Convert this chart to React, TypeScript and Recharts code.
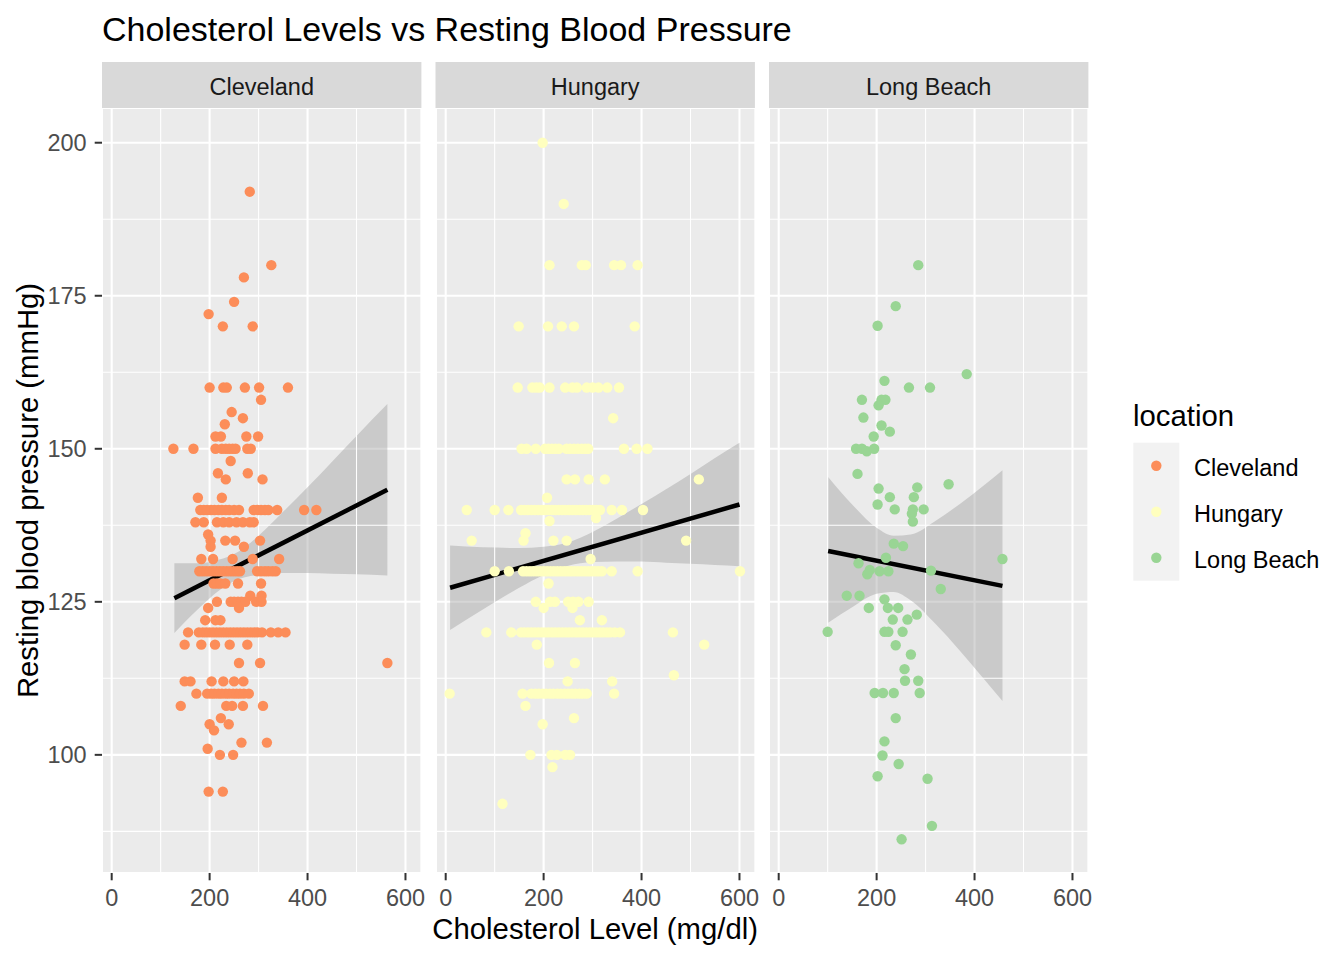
import React from 'react';
import { ComposedChart, Scatter, Line, Area, XAxis, YAxis, CartesianGrid, ReferenceLine } from 'recharts';

const FONT = '"Liberation Sans", Arial, Helvetica, sans-serif';

const chartTitle = 'Cholesterol Levels vs Resting Blood Pressure';
const xTitle = 'Cholesterol Level (mg/dl)';
const yTitle = 'Resting blood pressure (mmHg)';
const legendTitle = 'location';

const locations = ['Cleveland', 'Hungary', 'Long Beach'];
const colors = ['#FC8D59', '#FFFFBF', '#99D594'];

const xTicks = [0, 200, 400, 600];
const xMinor = [100, 300, 500];
const yTicks = [100, 125, 150, 175, 200];
const yMinor = [87.5, 112.5, 137.5, 162.5, 187.5];
const xDomain = [-19.8, 632.5];
const yDomain = [80.7, 205.67];

// [cholesterol, resting bp]
const clevelandPoints: [number, number][] = [
  [282, 192], [326, 180], [270, 178], [250, 174], [198, 172], [227, 170], [288, 170],
  [200, 160], [228, 160], [235, 160], [272, 160], [301, 160], [360, 160],
  [305, 158], [245, 156], [268, 155], [231, 154],
  [212, 152], [223, 152], [275, 152], [299, 152],
  [126, 150], [167, 150], [212, 150], [225, 150], [233, 150], [240, 150], [247, 150], [253, 150], [277, 150], [284, 150],
  [243, 148], [217, 146], [278, 146], [233, 145], [308, 145], [176, 142], [225, 142],
  [181, 140], [188, 140], [195, 140], [203, 140], [210, 140], [218, 140], [225, 140], [233, 140], [240, 140], [250, 140], [260, 140],
  [290, 140], [298, 140], [305, 140], [313, 140], [320, 140], [338, 140], [393, 140], [418, 140],
  [171, 138], [188, 138], [215, 138], [228, 138], [240, 138], [255, 138], [268, 138], [282, 138], [290, 138],
  [197, 136], [202, 135], [232, 135], [252, 135], [303, 135], [202, 134], [270, 134],
  [183, 132], [207, 132], [247, 132], [288, 132], [342, 132],
  [179, 130], [186, 130], [193, 130], [200, 130], [207, 130], [214, 130], [221, 130], [228, 130], [235, 130], [242, 130], [249, 130], [256, 130], [262, 130],
  [297, 130], [305, 130], [313, 130], [320, 130], [328, 130], [335, 130],
  [208, 128], [215, 128], [222, 128], [232, 128], [258, 128], [305, 128], [283, 126], [306, 126],
  [215, 125], [243, 125], [250, 125], [258, 125], [265, 125], [273, 125], [295, 125], [306, 125],
  [197, 124], [260, 124], [191, 122], [212, 122], [222, 122],
  [156, 120], [178, 120], [186, 120], [193, 120], [200, 120], [207, 120], [214, 120], [221, 120], [228, 120], [235, 120], [242, 120],
  [249, 120], [256, 120], [263, 120], [270, 120], [277, 120], [284, 120], [291, 120], [298, 120], [307, 120], [325, 120], [340, 120], [355, 120],
  [149, 118], [183, 118], [211, 118], [241, 118], [277, 118],
  [260, 115], [303, 115], [563, 115],
  [149, 112], [161, 112], [204, 112], [228, 112], [250, 112], [269, 112],
  [173, 110], [195, 110], [203, 110], [210, 110], [218, 110], [225, 110], [233, 110], [240, 110], [248, 110], [255, 110], [262, 110], [270, 110], [280, 110],
  [141, 108], [234, 108], [246, 108], [268, 108], [309, 108],
  [223, 106], [200, 105], [239, 105], [209, 104], [265, 102], [317, 102], [196, 101], [221, 100], [248, 100], [198, 94], [227, 94],
];

const hungaryPoints: [number, number][] = [
  [198, 200], [241, 190],
  [212, 180], [278, 180], [286, 180], [344, 180], [358, 180], [392, 180],
  [149, 170], [209, 170], [237, 170], [262, 170], [386, 170],
  [147, 160], [177, 160], [185, 160], [192, 160], [212, 160], [244, 160], [259, 160], [268, 160], [288, 160], [300, 160], [312, 160], [330, 160], [354, 160],
  [342, 155],
  [155, 150], [165, 150], [184, 150], [203, 150], [210, 150], [217, 150], [224, 150], [231, 150], [247, 150], [254, 150], [262, 150], [270, 150],
  [278, 150], [285, 150], [291, 150], [364, 150], [390, 150], [412, 150],
  [247, 145], [264, 145], [292, 145], [325, 145], [517, 145], [207, 142],
  [43, 140], [100, 140], [128, 140], [154, 140], [161, 140], [168, 140], [175, 140], [182, 140], [189, 140], [196, 140], [203, 140], [210, 140],
  [217, 140], [224, 140], [231, 140], [238, 140], [245, 140], [252, 140], [259, 140], [266, 140], [273, 140], [280, 140], [287, 140], [294, 140],
  [301, 140], [308, 140], [315, 140], [339, 140], [360, 140], [403, 140],
  [307, 138.7], [212, 138.2], [163, 136.2], [53, 135], [159, 135], [220, 135], [247, 135], [491, 135], [296, 132],
  [100, 130], [129, 130], [158, 130], [165, 130], [172, 130], [179, 130], [186, 130], [193, 130], [200, 130], [207, 130], [214, 130], [221, 130],
  [228, 130], [235, 130], [242, 130], [249, 130], [256, 130], [263, 130], [270, 130], [277, 130], [284, 130], [291, 130], [298, 130], [305, 130],
  [312, 130], [319, 130], [339, 130], [392, 130], [601, 130],
  [210, 128], [184, 125], [213, 125], [223, 125], [250, 125], [260, 125], [271, 125], [292, 125],
  [200, 124], [259, 124], [274, 122], [319, 122],
  [83, 120], [134, 120], [154, 120], [161, 120], [168, 120], [175, 120], [182, 120], [189, 120], [196, 120], [203, 120], [210, 120], [217, 120],
  [224, 120], [231, 120], [238, 120], [245, 120], [252, 120], [259, 120], [266, 120], [273, 120], [280, 120], [287, 120], [294, 120], [301, 120],
  [308, 120], [315, 120], [322, 120], [329, 120], [336, 120], [345, 120], [356, 120], [464, 120],
  [186, 118], [528, 118], [211, 115], [264, 115], [466, 113], [249, 112], [340, 112],
  [8, 110], [157, 110], [175, 110], [183, 110], [190, 110], [198, 110], [205, 110], [213, 110], [220, 110], [228, 110], [235, 110], [243, 110],
  [250, 110], [258, 110], [265, 110], [273, 110], [280, 110], [288, 110], [344, 110],
  [163, 108], [262, 106], [198, 105],
  [173, 100], [216, 100], [227, 100], [244, 100], [254, 100], [218, 98], [116, 92],
];

const longBeachPoints: [number, number][] = [
  [285, 180], [239, 173.3], [202, 170.1], [384, 162.2], [216, 161.1], [266, 160], [309, 160], [170, 158], [210, 158], [218, 158],
  [204, 157.1], [173, 155.1], [210, 153.8], [227, 152.8], [194, 152], [158, 150], [170, 150], [180, 149.6], [195, 150], [161, 145.9],
  [204, 143.5], [283, 143.7], [347, 144.2], [227, 142.1], [276, 142.1], [202, 140.9], [237, 140.1], [274, 140.1], [296, 140.1], [272, 139.4],
  [274, 138.1], [235, 134.5], [254, 134.1], [457, 132], [219, 132.2], [163, 131.3], [186, 130.2], [181, 129.5], [206, 130], [224, 130],
  [311, 130.1], [331, 127.1], [139, 126], [165, 126], [216, 125.4], [184, 124], [223, 124], [244, 124], [282, 122.9], [233, 122.1],
  [263, 122.1], [100, 120.1], [216, 120.1], [224, 120.1], [253, 120.1], [239, 117.9], [270, 116.4], [257, 114], [258, 112.1], [285, 112.1],
  [196, 110.1], [213, 110.1], [235, 110.1], [288, 110.1], [239, 106], [216, 102.2], [212, 99.9], [245, 98.5], [202, 96.5], [304, 96.1],
  [313, 88.4], [251, 86.2],
];

// regression line end points [x, fit]
const clevelandFit: [number, number][] = [[128, 125.6], [563, 143.3]];
const hungaryFit: [number, number][] = [[9, 127.3], [600, 140.9]];
const longBeachFit: [number, number][] = [[101, 133.3], [457, 127.6]];

// confidence band [x, lower, upper]
const clevelandBand: [number, number, number][] = [
  [128, 119.9, 131.3], [175, 123.7, 131.3], [220, 126.9, 131.9], [250, 128.4, 132.8], [300, 129.4, 135.8],
  [350, 129.7, 139.7], [400, 129.7, 143.7], [450, 129.6, 147.9], [500, 129.5, 152.1], [563, 129.3, 157.3],
];
const hungaryBand: [number, number, number][] = [
  [9, 120.4, 134.2], [75, 123.7, 133.9], [150, 127.3, 133.8], [200, 129.4, 134.0], [250, 130.9, 134.7], [300, 131.5, 136.4],
  [350, 131.6, 138.6], [400, 131.6, 141.0], [450, 131.4, 143.4], [500, 131.2, 145.9], [550, 131.0, 148.5], [600, 130.8, 151.0],
];
const longBeachBand: [number, number, number][] = [
  [101, 121.6, 145.4], [150, 124.1, 140.9], [200, 126.3, 137.1], [235, 126.6, 135.8], [270, 125.2, 136.0],
  [320, 121.4, 138.2], [370, 117.0, 141.0], [420, 112.3, 144.1], [457, 108.8, 146.5],
];

const pointSets = [clevelandPoints, hungaryPoints, longBeachPoints];
const fitSets = [clevelandFit, hungaryFit, longBeachFit];
const bandSets = [clevelandBand, hungaryBand, longBeachBand];

// layout
const PANEL_LEFTS = [102, 435.5, 769];
const PANEL_W = 319.4;
const PANEL_TOP = 108;
const PANEL_H = 765;
const Y_AXIS_W = 102;
const RIGHT_PAD = 26;
const POINT_R = 5.2;

function Panel({ idx }: { idx: number }) {
  const color = colors[idx];
  const showY = idx === 0;
  const pts = pointSets[idx].map(([x, y]) => ({ x, y }));
  const fit = fitSets[idx].map(([x, y]) => ({ x, y }));
  const band = bandSets[idx].map(([x, lo, hi]) => ({ x, band: [lo, hi] }));
  const yW = showY ? Y_AXIS_W : 0;
  const width = yW + PANEL_W + RIGHT_PAD;
  const height = 960 - PANEL_TOP;
  return (
    <div style={{ position: 'absolute', left: PANEL_LEFTS[idx] - yW, top: PANEL_TOP, width, height }}>
      <ComposedChart width={width} height={height} margin={{ top: 0, right: RIGHT_PAD, bottom: 0, left: 0 }}>
        <CartesianGrid fill="#EBEBEB" stroke="#FFFFFF" strokeWidth={2.1} />
        {xMinor.map((v) => (
          <ReferenceLine key={'xm' + v} x={v} stroke="#FFFFFF" strokeWidth={1.07} />
        ))}
        {yMinor.map((v) => (
          <ReferenceLine key={'ym' + v} y={v} stroke="#FFFFFF" strokeWidth={1.07} />
        ))}
        <XAxis
          type="number"
          dataKey="x"
          domain={xDomain}
          ticks={xTicks}
          interval={0}
          allowDataOverflow
          height={960 - PANEL_TOP - PANEL_H}
          tickSize={7.3}
          tickMargin={9}
          axisLine={false}
          tickLine={{ stroke: '#333333', strokeWidth: 2 }}
          tick={{ fill: '#4D4D4D', fontSize: 23.5, fontFamily: FONT }}
        />
        <YAxis
          type="number"
          domain={yDomain}
          ticks={yTicks}
          interval={0}
          allowDataOverflow
          hide={!showY}
          width={Y_AXIS_W}
          tickSize={7.3}
          tickMargin={8}
          axisLine={false}
          tickLine={{ stroke: '#333333', strokeWidth: 2 }}
          tick={{ fill: '#4D4D4D', fontSize: 23.5, fontFamily: FONT }}
        />
        <Scatter
          data={pts}
          dataKey="y"
          isAnimationActive={false}
          shape={(p: any) => <circle cx={p.cx} cy={p.cy} r={POINT_R} fill={color} />}
        />
        <Area
          data={band}
          dataKey="band"
          type="monotone"
          stroke="none"
          fill="#999999"
          fillOpacity={0.4}
          isAnimationActive={false}
          activeDot={false}
        />
        <Line
          data={fit}
          dataKey="y"
          type="linear"
          stroke="#000000"
          strokeWidth={4.5}
          dot={false}
          activeDot={false}
          isAnimationActive={false}
        />
      </ComposedChart>
    </div>
  );
}

export default function App() {
  const centerX = (PANEL_LEFTS[0] + PANEL_LEFTS[2] + PANEL_W) / 2;
  return (
    <div style={{ position: 'relative', width: 1344, height: 960, background: '#FFFFFF', fontFamily: FONT, overflow: 'hidden' }}>
      <style>{'body{margin:0;}'}</style>
      <svg width={1344} height={960} style={{ position: 'absolute', left: 0, top: 0 }} fontFamily={FONT}>
        <text x={102} y={41.3} fontSize={34} fill="#000000">{chartTitle}</text>
        {locations.map((name, i) => (
          <g key={name}>
            <rect x={PANEL_LEFTS[i]} y={62} width={PANEL_W} height={46} fill="#D9D9D9" />
            <text x={PANEL_LEFTS[i] + PANEL_W / 2} y={95} textAnchor="middle" fontSize={23.5} fill="#1A1A1A">{name}</text>
          </g>
        ))}
        <text x={centerX} y={939} textAnchor="middle" fontSize={29.3} fill="#000000">{xTitle}</text>
        <text transform={`translate(38,${PANEL_TOP + PANEL_H / 2}) rotate(-90)`} textAnchor="middle" fontSize={29.3} fill="#000000">{yTitle}</text>
        <text x={1133} y={425.7} fontSize={29.3} fill="#000000">{legendTitle}</text>
        <rect x={1133.3} y={442.7} width={46} height={138} fill="#F2F2F2" />
        {locations.map((name, i) => (
          <g key={'lg' + name}>
            <circle cx={1156.3} cy={465.7 + i * 46} r={POINT_R} fill={colors[i]} />
            <text x={1194} y={475.5 + i * 46} fontSize={23.5} fill="#000000">{name}</text>
          </g>
        ))}
      </svg>
      <Panel idx={0} />
      <Panel idx={1} />
      <Panel idx={2} />
    </div>
  );
}
